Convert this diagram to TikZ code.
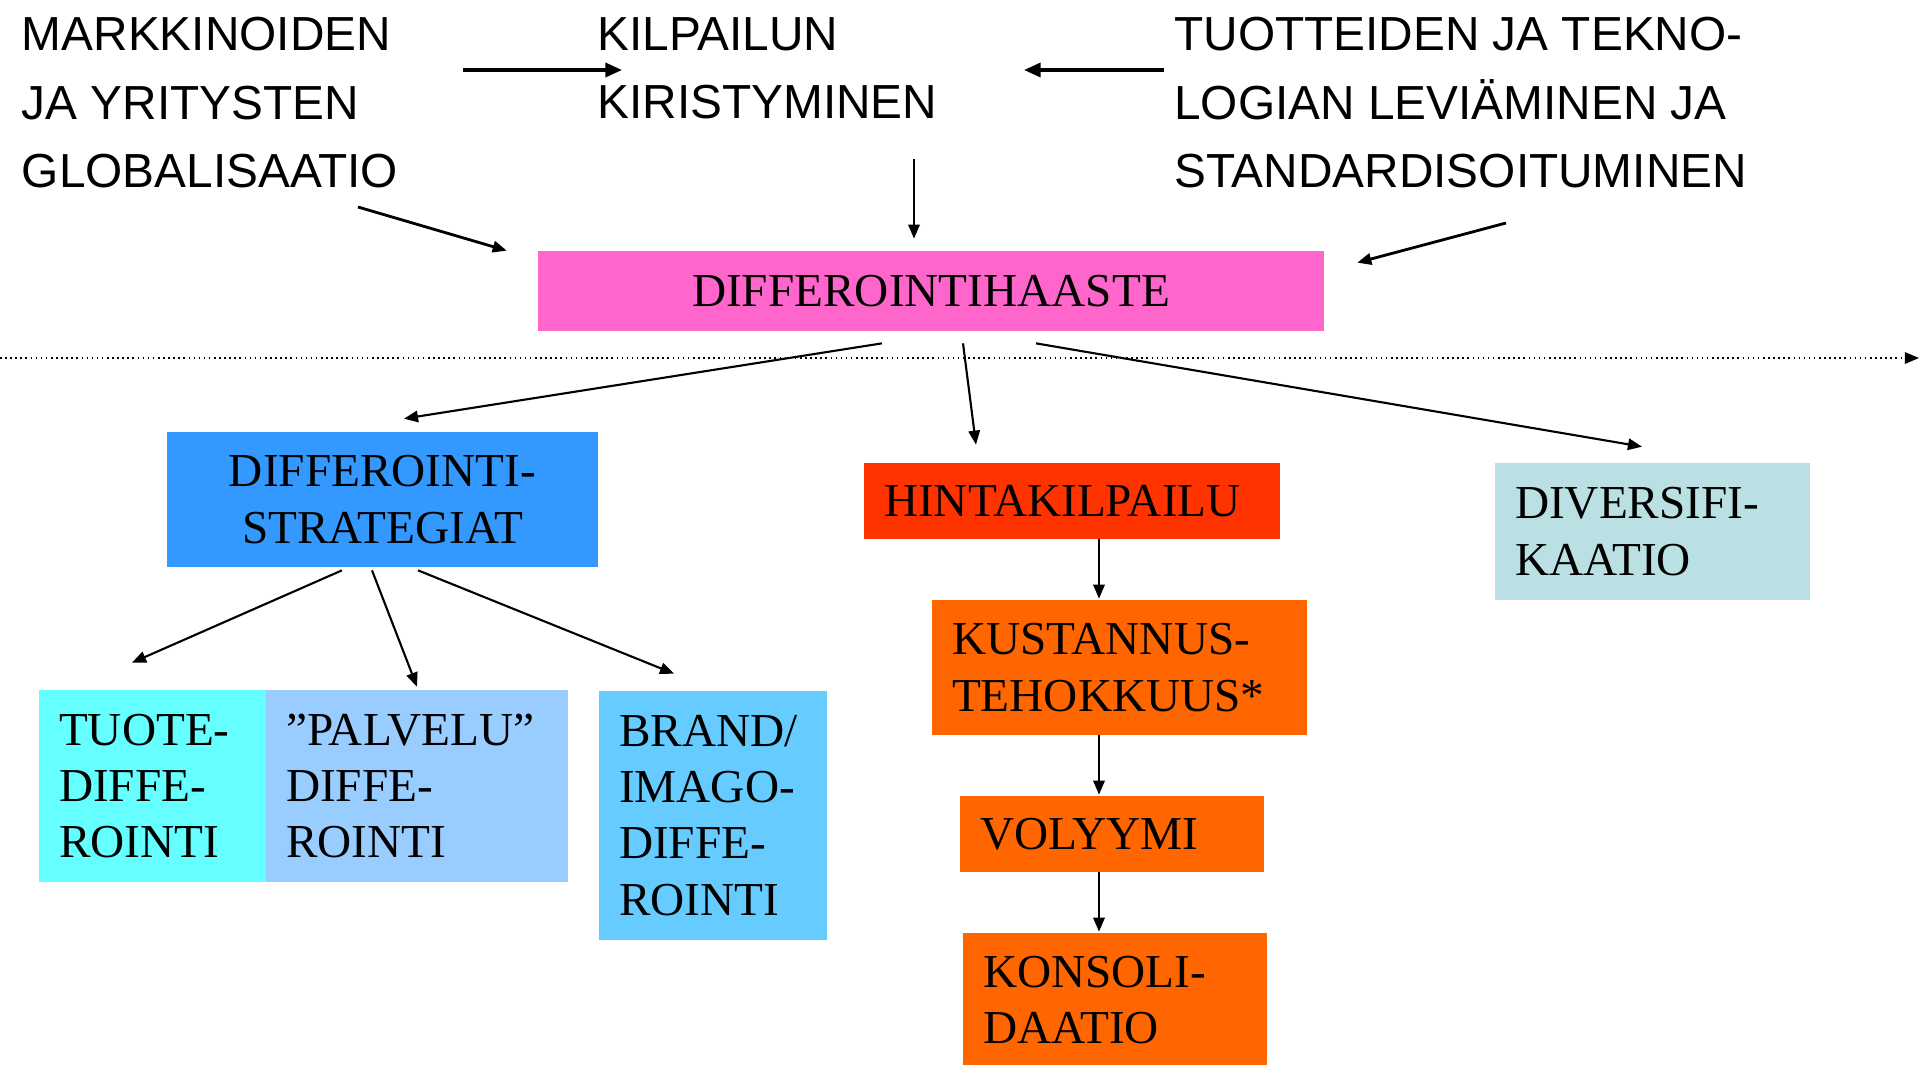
\documentclass[tikz,border=0pt]{standalone}
\usepackage{fontspec}
\setmainfont{Liberation Serif}
\newfontfamily\arialfont{Liberation Sans}
\usetikzlibrary{arrows.meta}
\newcommand\sansbig{\arialfont\fontsize{27.2pt}{38.9pt}\selectfont}
\newcommand\serifbig{\fontsize{26.9pt}{32pt}\selectfont}
\definecolor{haastepink}{HTML}{FF66CC}
\definecolor{stratblue}{HTML}{3399FF}
\definecolor{hintared}{HTML}{FF3300}
\definecolor{kustorange}{HTML}{FF6600}
\definecolor{tuotecyan}{HTML}{66FFFF}
\definecolor{palvelublue}{HTML}{99CCFF}
\definecolor{brandblue}{HTML}{66CCFF}
\definecolor{diversgray}{HTML}{BBE0E3}
\tikzset{
	topnote/.style={anchor=north west, inner sep=0pt, align=left, font=\sansbig},
	plainbox/.style={inner sep=0pt, align=center, font=\serifbig},
	leftbox/.style={inner ysep=0pt, inner xsep=0.4cm, align=left, font=\serifbig},
	arr/.style={line width=1.2pt, -{Triangle[length=8pt,width=6.5pt]}},
	thickarr/.style={line width=2pt, -{Triangle[length=9.5pt,width=8pt]}}
}

\begin{document}
\begin{tikzpicture}[x=0.02cm, y=-0.02cm]
		%%%%% START %%%%%
		\useasboundingbox (0, 0) rectangle (1921, 1065);
		\clip (0, 0) rectangle (1921, 1065);
		
		% top row of causes
		\node[topnote] (markk) at (21.5, 17) {MARKKINOIDEN\\JA YRITYSTEN\\GLOBALISAATIO};
		\node[topnote] (kilp) at (597, 17) {KILPAILUN\\KIRISTYMINEN};
		\node[topnote] (tuott) at (1174, 17) {TUOTTEIDEN JA TEKNO-\\LOGIAN LEVIÄMINEN JA\\STANDARDISOITUMINEN};
		
		\node[plainbox, fill=haastepink, minimum width=15.72cm, minimum height=1.6cm] (haaste) at (931, 291) {DIFFEROINTIHAASTE};
		
		\draw[dotted, line width=0.9pt, -{Triangle[length=8pt,width=6.5pt]}] (0, 358) -- (1919, 358);
		
		% strategies
		\node[plainbox, fill=stratblue, minimum width=8.62cm, minimum height=2.7cm] (strat) at (382.5, 499.5) {DIFFEROINTI-\\STRATEGIAT};
		\node[leftbox, fill=hintared, text width=7.52cm, minimum height=1.52cm] (hinta) at (1072, 501) {HINTAKILPAILU};
		\node[leftbox, fill=diversgray, text width=5.5cm, minimum height=2.74cm] (divers) at (1652.5, 531.5) {DIVERSIFI-\\KAATIO};
		
		\node[leftbox, fill=tuotecyan, text width=3.74cm, minimum height=3.84cm] (tuote) at (152.5, 786) {TUOTE-\\DIFFE-\\ROINTI};
		\node[leftbox, fill=palvelublue, text width=5.24cm, minimum height=3.84cm] (palvelu) at (417, 786) {”PALVELU”\\DIFFE-\\ROINTI};
		\node[leftbox, fill=brandblue, text width=3.76cm, minimum height=4.98cm] (brand) at (713, 815.5) {BRAND/\\IMAGO-\\DIFFE-\\ROINTI};
		
		\node[leftbox, fill=kustorange, text width=6.7cm, minimum height=2.7cm] (kust) at (1119.5, 667.5) {KUSTANNUS-\\TEHOKKUUS*};
		\node[leftbox, fill=kustorange, text width=5.28cm, minimum height=1.52cm] (volyymi) at (1112, 834) {VOLYYMI};
		\node[leftbox, fill=kustorange, text width=5.28cm, minimum height=2.68cm] (konsoli) at (1115, 1000) {KONSOLI-\\DAATIO};
		
		% arrows
		\draw[thickarr] ([shift={(441.5, 53)}]markk.north west) -- ([shift={(25, 53)}]kilp.north west);
		\draw[thickarr] ([shift={(-10, 53)}]tuott.north west) -- ([shift={(427, 53)}]kilp.north west);
		\draw[arr] ([shift={(317, 142)}]kilp.north west) -- ([shift={(-17, -12)}]haaste.north);
		\draw[arr, line width=1.6pt] ([shift={(336.5, 190)}]markk.north west) -- ([shift={(-31, 0)}]haaste.north west);
		\draw[arr, line width=1.6pt] ([shift={(332, 206)}]tuott.north west) -- ([shift={(33, 12)}]haaste.north east);
		
		\draw[arr] ([shift={(-49, 12)}]haaste.south) -- ([shift={(21.5, -13)}]strat.north);
		\draw[arr] ([shift={(32, 12)}]haaste.south) -- ([shift={(-96, -18)}]hinta.north);
		\draw[arr] ([shift={(105, 12)}]haaste.south) -- ([shift={(-10.5, -16)}]divers.north);
		
		\draw[arr] ([shift={(-40.5, 3)}]strat.south) -- ([shift={(-20.5, -27)}]tuote.north);
		\draw[arr] ([shift={(-10.5, 3)}]strat.south) -- ([shift={(0, -3)}]palvelu.north);
		\draw[arr] ([shift={(35.5, 3)}]strat.south) -- ([shift={(-39, -17)}]brand.north);
		
		\draw[arr] ([xshift=27*0.02cm]hinta.south) -- ([shift={(-20.5, -1)}]kust.north);
		\draw[arr] ([xshift=-20.5*0.02cm]kust.south) -- ([shift={(-13, -1)}]volyymi.north);
		\draw[arr] ([xshift=-13*0.02cm]volyymi.south) -- ([shift={(-16, -1)}]konsoli.north);
		
		%%%%% END %%%%%
	\end{tikzpicture}
\end{document}
